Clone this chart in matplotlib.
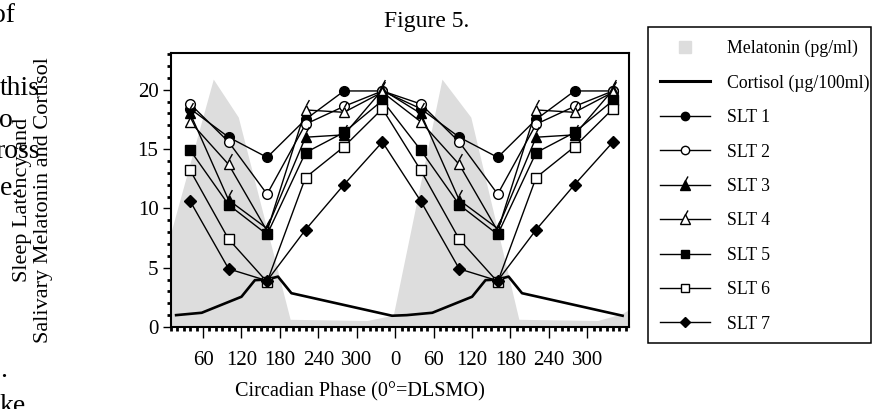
import matplotlib
matplotlib.use("Agg")
import matplotlib.pyplot as plt
from matplotlib.lines import Line2D
from matplotlib.patches import Rectangle
from matplotlib.ticker import MultipleLocator
from matplotlib.legend_handler import HandlerTuple

plt.rcParams['font.family'] = ['Liberation Serif', 'DejaVu Serif']

#DATOS (un ciclo, se grafica doble)
fases_slt = [40, 100, 160, 220, 280, 340]
slt1 = [18.4, 16.0, 14.3, 17.5, 19.9, 19.9]
slt2 = [18.8, 15.6, 11.2, 17.1, 18.6, 19.9]
slt3 = [18.0, 10.7, 8.3, 16.0, 16.2, 20.0]
slt4 = [17.3, 13.7, 8.1, 18.3, 18.1, 19.8]
slt5 = [14.9, 10.3, 7.8, 14.7, 16.4, 19.1]
slt6 = [13.2, 7.4, 3.8, 12.6, 15.2, 18.4]
slt7 = [10.6, 4.9, 3.9, 8.2, 12.0, 15.6]

fases_cortisol = [18, 58, 120, 141, 160, 177, 198, 355]
cortisol = [1.0, 1.2, 2.55, 3.95, 4.0, 4.25, 2.85, 0.95]

fases_melatonina = [10, 76, 115, 196, 316, 357, 433, 478, 553, 676, 713, 726]
melatonina = [8.0, 20.9, 17.7, 0.65, 0.55, 1.0, 20.9, 17.7, 0.65, 0.55, 1.1, 1.5]

ticks_x = [60, 120, 180, 240, 300, 360, 420, 480, 540, 600, 660]
etiquetas_x = ["60", "120", "180", "240", "300", "0", "60", "120", "180", "240", "300"]
ticks_y = [0, 5, 10, 15, 20]


def doble(fases, valores):
    x = list(fases) + [f + 360 for f in fases]
    y = list(valores) + list(valores)
    return x, y


fig = plt.figure(figsize=(8.72, 4.09), dpi=100)
ax = fig.add_axes([171/872, 1-327/409, (629-171)/872, (327-53)/409])

gris = "#dddddd"
ax.fill_between(fases_melatonina, 0, melatonina, color=gris, lw=0, zorder=1)

xc, yc = doble(fases_cortisol, cortisol)
ax.plot(xc, yc, color="black", lw=1.9, zorder=2)

# marcador de "rabito" para los triangulos
tick = [(0, 0.5), (0.28, 1.0)]

series = [
    (slt1, "o", "black", 7),
    (slt2, "o", "white", 7),
    (slt3, "^", "black", 7.5),
    (slt4, "^", "white", 7.5),
    (slt5, "s", "black", 6.5),
    (slt6, "s", "white", 6.5),
    (slt7, "D", "black", 5.8),
]
handles = []
for valores, m, cara, ms in series:
    xs, ys = doble(fases_slt, valores)
    ax.plot(xs, ys, color="black", lw=1.0, marker=m, ms=ms,
            mfc=cara, mec="black", mew=1.0, zorder=3)
    h = Line2D([], [], color="black", lw=1.0, marker=m, ms=ms - 1,
               mfc=cara, mec="black", mew=1.0)
    if m == "^":
        ax.plot(xs, ys, ls="none", marker=tick, ms=2*ms, mec="black",
                mew=1.0, zorder=4)
        ht = Line2D([], [], ls="none", marker=tick, ms=2*(ms - 1),
                    mec="black", mew=1.0)
        h = (h, ht)
    handles.append(h)

ax.set_xlim(10, 725)
ax.set_ylim(0, 23.1)
ax.set_xticks(ticks_x)
ax.set_xticklabels(etiquetas_x)
ax.set_yticks(ticks_y)
ax.xaxis.set_minor_locator(MultipleLocator(10))
ax.yaxis.set_minor_locator(MultipleLocator(1))
ax.tick_params(axis="x", which="major", direction="out", length=8, width=1,
               labelsize=15, pad=9)
ax.tick_params(axis="x", which="minor", direction="out", length=3, width=2)
ax.tick_params(axis="y", which="major", direction="out", length=6, width=1,
               labelsize=15, pad=3)
ax.tick_params(axis="y", which="minor", direction="out", length=3, width=2)
for s in ax.spines.values():
    s.set_linewidth(1.5)

#TEXTOS
fig.text(427/872, 1-22/409, "Figure 5.", ha="center", va="center", fontsize=17)
fig.text(360/872, 1-392/409, "Circadian Phase (0°=DLSMO)", ha="center",
         va="center", fontsize=14.6)
fig.text(22.5/872, 1-200/409, "Sleep Latency and", rotation=90,
         ha="center", va="center", fontsize=16)
fig.text(43.5/872, 1-200/409, "Salivary Melatonin and Cortisol", rotation=90,
         ha="center", va="center", fontsize=16)

# restos del texto de la pagina
restos = [("of", -8, 21.7), ("this", 0, 95), ("o", -1, 127), ("ross", -5, 158),
          ("e.", 0, 195), (".", 0, 377), ("ke", 0, 413)]
for txt, px, py in restos:
    fig.text(px/872, 1-py/409, txt, ha="left", va="baseline", fontsize=20)

#LEYENDA
h_mel = Line2D([], [], ls="none", marker="s", ms=9, mfc=gris, mec=gris)
h_cort = Line2D([], [], color="black", lw=2.2)
nombres = ["Melatonin (pg/ml)", "Cortisol (µg/100ml)", "SLT 1", "SLT 2",
           "SLT 3", "SLT 4", "SLT 5", "SLT 6", "SLT 7"]
fig.legend([h_mel, h_cort] + handles, nombres, loc="upper left",
           bbox_to_anchor=(660/872, 1-39.7/409), frameon=False, fontsize=12.8,
           handlelength=2.8, handletextpad=0.95, labelspacing=0.98,
           borderpad=0, borderaxespad=0,
           handler_map={tuple: HandlerTuple(ndivide=1)})
fig.add_artist(Rectangle((648/872, 1-342.7/409), 223/872, 315.4/409,
                         transform=fig.transFigure, fill=False,
                         edgecolor="black", lw=1.1))

fig.savefig("out.png", dpi=100)
